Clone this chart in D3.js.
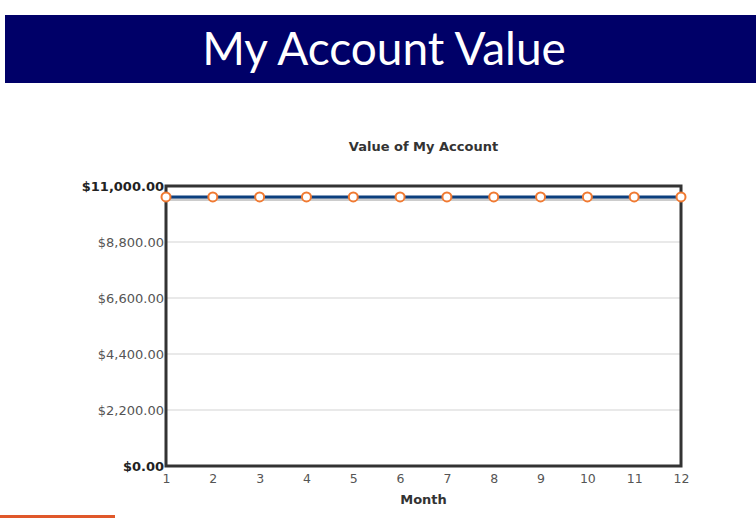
<!DOCTYPE html>
<html>
<head>
<meta charset="utf-8">
<script src="https://cdn.jsdelivr.net/npm/d3@7"></script>
<style>
  body { margin: 0; background: #fff; }
  svg { display: block; }
</style>
</head>
<body>
<div class="account-chart"></div>
<script>
const FRAME_WIDTH = 756;
const FRAME_HEIGHT = 518;
const MARGINS = {left: 166, right: 75, top: 186, bottom: 52};

// data
const months = [1, 2, 3, 4, 5, 6, 7, 8, 9, 10, 11, 12];
const accountValues = [10570, 10570, 10570, 10570, 10570, 10570,
                       10570, 10570, 10570, 10570, 10570, 10570];
const yTicks = [0, 2200, 4400, 6600, 8800, 11000];

const PLOT_W = FRAME_WIDTH - MARGINS.left - MARGINS.right;
const PLOT_H = FRAME_HEIGHT - MARGINS.top - MARGINS.bottom;
const FONT = "DejaVu Sans, Verdana, sans-serif";

const svg = d3.select(".account-chart")
    .append("svg")
    .attr("width", FRAME_WIDTH)
    .attr("height", FRAME_HEIGHT);

// header band
svg.append("rect")
    .attr("x", 5).attr("y", 15)
    .attr("width", FRAME_WIDTH - 5).attr("height", 68)
    .attr("fill", "#000068");

svg.append("text")
    .attr("x", 384).attr("y", 65)
    .attr("text-anchor", "middle")
    .attr("fill", "#fff")
    .attr("font-family", "Lato, sans-serif")
    .attr("font-size", "46px")
    .text("My Account Value");

// orange strip at the bottom left
svg.append("rect")
    .attr("x", 0).attr("y", 515)
    .attr("width", 115).attr("height", 3)
    .attr("fill", "#e0582a");

const xScale = d3.scaleLinear().domain([1, 12]).range([0, PLOT_W]);
const yScale = d3.scaleLinear().domain([0, 11000]).range([PLOT_H, 0]);

const g = svg.append("g")
    .attr("transform", "translate(" + MARGINS.left + "," + MARGINS.top + ")");

// chart title
svg.append("text")
    .attr("x", MARGINS.left + PLOT_W / 2).attr("y", 151)
    .attr("text-anchor", "middle")
    .attr("font-family", FONT)
    .attr("font-size", "13px")
    .attr("font-weight", "bold")
    .attr("fill", "#333")
    .text("Value of My Account");

// gridlines
g.append("g")
    .selectAll("line")
    .data(yTicks.slice(1, -1))
    .enter().append("line")
    .attr("x1", 0).attr("x2", PLOT_W)
    .attr("y1", d => yScale(d)).attr("y2", d => yScale(d))
    .attr("stroke", "#e2e2e2")
    .attr("stroke-width", 1.5);

// y axis labels
const fmt = d3.format("$,.2f");
const yAxis = g.append("g")
    .call(d3.axisLeft(yScale).tickValues(yTicks).tickFormat(fmt).tickSize(0).tickPadding(2));
yAxis.select(".domain").remove();
yAxis.selectAll("text")
    .attr("font-family", FONT)
    .attr("font-size", "13px")
    .attr("font-weight", (d, i) => (i === 0 || i === yTicks.length - 1) ? "bold" : "normal")
    .attr("fill", (d, i) => (i === 0 || i === yTicks.length - 1) ? "#222" : "#555");

// x axis labels
const xAxis = g.append("g")
    .attr("transform", "translate(0," + PLOT_H + ")")
    .call(d3.axisBottom(xScale).tickValues(months).tickFormat(d3.format("d")).tickSize(0).tickPadding(8));
xAxis.select(".domain").remove();
xAxis.selectAll("text")
    .attr("font-family", FONT)
    .attr("font-size", "12.5px")
    .attr("fill", "#555");

svg.append("text")
    .attr("x", MARGINS.left + PLOT_W / 2).attr("y", 504)
    .attr("text-anchor", "middle")
    .attr("font-family", FONT)
    .attr("font-size", "13px")
    .attr("font-weight", "bold")
    .attr("fill", "#333")
    .text("Month");

// frame
g.append("rect")
    .attr("x", 0).attr("y", 0)
    .attr("width", PLOT_W).attr("height", PLOT_H)
    .attr("fill", "none")
    .attr("stroke", "#333")
    .attr("stroke-width", 3);

const points = months.map((m, i) => ({month: m, value: accountValues[i]}));

const line = d3.line()
    .x(d => xScale(d.month))
    .y(d => yScale(d.value));

// line shadow
g.append("path")
    .datum(points)
    .attr("d", line)
    .attr("transform", "translate(0,2)")
    .attr("fill", "none")
    .attr("stroke", "#ccc")
    .attr("stroke-width", 4);

g.append("path")
    .datum(points)
    .attr("d", line)
    .attr("fill", "none")
    .attr("stroke", "#0c3f7e")
    .attr("stroke-width", 3);

g.selectAll(".dot")
    .data(points)
    .enter().append("circle")
    .attr("class", "dot")
    .attr("cx", d => xScale(d.month))
    .attr("cy", d => yScale(d.value))
    .attr("r", 4.5)
    .attr("fill", "#fff")
    .attr("stroke", "#f07a32")
    .attr("stroke-width", 2);
</script>
</body>
</html>
